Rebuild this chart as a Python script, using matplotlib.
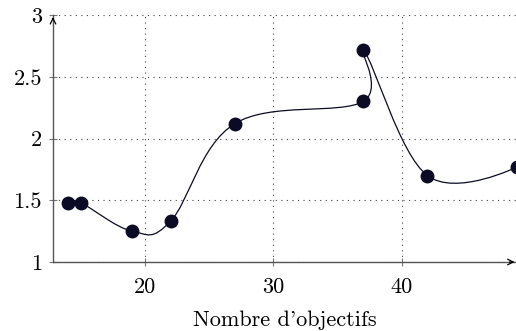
import matplotlib
matplotlib.use('Agg')
import matplotlib.pyplot as plt
import numpy as np
from matplotlib.path import Path
from matplotlib.patches import PathPatch

# data
x_vals = [14, 15, 19, 22, 27, 37, 37, 42, 49]
y_vals = [1.48, 1.48, 1.25, 1.33, 2.12, 2.30, 2.72, 1.70, 1.77]
x_ticks = [20, 30, 40]
y_ticks = [1, 1.5, 2, 2.5, 3]
y_tick_labels = ['1', '1.5', '2', '2.5', '3']
x_label = "Nombre d'objectifs"

col = '#0b0b26'
font = 'cmr10'


def smooth_path(xs, ys, tension=0.183):
    """Bezier path like TikZ 'smooth' plots."""
    p = np.column_stack([xs, ys]).astype(float)
    n = len(p)
    verts = [p[0]]
    codes = [Path.MOVETO]
    for i in range(n - 1):
        c1 = p[i] if i == 0 else p[i] + tension * (p[i + 1] - p[i - 1])
        c2 = p[i + 1] if i + 1 == n - 1 else p[i + 1] - tension * (p[i + 2] - p[i])
        verts += [c1, c2, p[i + 1]]
        codes += [Path.CURVE4] * 3
    return Path(verts, codes)


fig = plt.figure(figsize=(5.16, 3.31), dpi=100)
ax = fig.add_axes([53 / 516, 69 / 331, 463 / 516, 247 / 331])
ax.set_xlim(12.85, 48.9)
ax.set_ylim(1, 3)

ax.grid(True, color='#444444', linestyle=(0, (1, 4)), linewidth=0.8)
ax.set_axisbelow(True)

ax.add_patch(PathPatch(smooth_path(x_vals, y_vals), facecolor='none',
                       edgecolor=col, linewidth=0.9, zorder=3))
ax.plot(x_vals, y_vals, 'o', color=col, markersize=9, zorder=4)

for s in ['top', 'right']:
    ax.spines[s].set_visible(False)
for s in ['left', 'bottom']:
    ax.spines[s].set_color('#555555')
    ax.spines[s].set_linewidth(1.0)

# arrow heads on the axes
ax.annotate('', xy=(1.003, 0), xytext=(0.98, 0), xycoords='axes fraction',
            arrowprops=dict(arrowstyle='->', color='black', lw=0.9), annotation_clip=False)
ax.annotate('', xy=(0, 1.003), xytext=(0, 0.97), xycoords='axes fraction',
            arrowprops=dict(arrowstyle='->', color='black', lw=0.9), annotation_clip=False)

ax.set_xticks(x_ticks)
ax.set_xticklabels([str(t) for t in x_ticks], fontfamily=font, fontsize=16)
ax.set_yticks(y_ticks)
ax.set_yticklabels(y_tick_labels, fontfamily=font, fontsize=16)
ax.tick_params(direction='inout', length=6, width=0.8, color='#777777')
ax.tick_params(axis='x', pad=8)
ax.tick_params(axis='y', pad=5)

ax.set_xlabel(x_label, fontfamily=font, fontsize=16, labelpad=10)

plt.savefig('out.png', dpi=100)
